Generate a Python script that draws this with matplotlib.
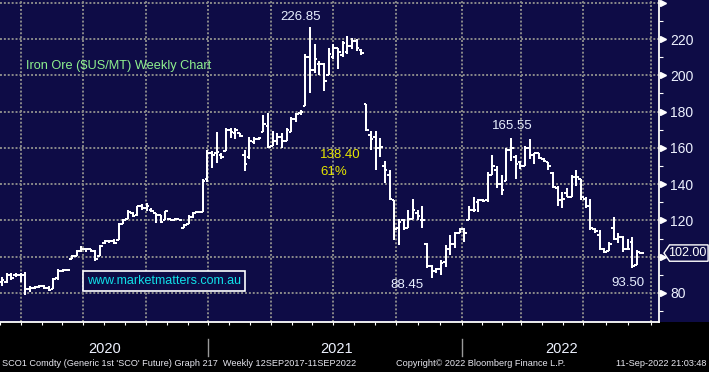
import numpy as np
import matplotlib
matplotlib.use("Agg")
import matplotlib.pyplot as plt
import matplotlib.transforms as mtransforms
from matplotlib.patches import Rectangle, Polygon

# weekly OHLC bars, SCO1 (iron ore 62%)
opens = [86, 86, 90, 90, 90, 90, 82, 83, 83.5, 84, 83, 82, 88, 92, 92.5,
         99, 100.5, 103, 104, 104, 103, 100.5, 107.5, 108.5, 108.5, 109, 118, 121, 124, 123,
         128, 127, 126, 124, 123, 120, 121, 120.5, 121, 116, 118, 122, 124.5, 124.5, 143,
         157, 157, 156, 158, 170, 168, 168, 156, 155, 163, 165, 169, 172, 161, 164,
         166, 164, 169, 176, 179, 183, 210, 203, 206, 206, 200, 210, 215, 211, 213,
         216, 219, 214, 184, 167, 166, 160, 150, 145, 131, 116, 120, 116, 121, 124,
         120, 107, 95, 92, 93, 97, 104, 107, 113, 115, 120, 126, 130, 131, 131,
         145, 148, 140, 142, 159, 155, 152, 150, 160, 156, 157, 154, 152, 146, 138,
         131, 135, 133, 144, 143, 132, 128, 115, 112, 104, 103, 116, 110, 111, 104,
         108, 95.5, 102]
highs = [89, 91, 91, 91, 91, 91.5, 84, 84, 84.5, 84.5, 84, 88, 93, 93, 93,
         101, 103.6, 106, 105, 104, 103.6, 106.4, 109, 109, 109.7, 118.5, 121, 126, 124.5, 128,
         129, 129.5, 127, 124, 123, 125, 121.5, 121.5, 121, 118, 123, 124.5, 125, 143, 158.6,
         158.5, 168.5, 157, 171, 171, 171, 168, 158.6, 166, 166, 166, 178, 179, 169.5, 168,
         168, 171, 177, 179, 181, 212, 226.85, 217, 208, 207, 215, 217, 215, 219, 221.7,
         220.6, 220, 214.6, 184.4, 169.5, 169.5, 165.7, 153, 147.6, 131, 121, 121, 125.6, 132, 125.6,
         128, 107.5, 95.4, 94, 98, 106.4, 111.9, 113.5, 116, 115.7, 128, 132.7, 132, 132, 146.5,
         155.8, 150, 145, 159.7, 165.55, 156, 153, 161, 165, 157, 157, 154.5, 152, 146.5, 139,
         135.5, 138, 145, 147.6, 143, 132.7, 132, 115.7, 114.6, 105, 108, 121.7, 113, 111.5, 110,
         110.8, 103.6, 102.5]
lows = [84, 85.5, 87, 89, 86, 79, 80.5, 82, 83, 82, 81, 82, 87, 91.5, 92,
        99, 100.5, 102.5, 102.5, 102.5, 97.7, 100.3, 107, 107.5, 107, 109, 118, 120.6, 122, 122.5,
        125.6, 125, 124.5, 118.5, 118.5, 120, 120, 120, 120.5, 116, 118, 121.5, 124, 124.5, 141,
        149, 151.4, 154, 158, 165.5, 165, 166, 147, 154, 162, 164.5, 168.5, 160, 161, 161.5,
        159.7, 164, 168.5, 174, 178, 183, 190, 201, 200, 191.5, 200, 209, 203.6, 210, 212,
        214.6, 213.5, 211, 169.5, 158.6, 147.6, 154.7, 140.4, 131, 109, 106.4, 114.6, 116, 121, 120,
        116, 93.7, 88.45, 91, 90, 94.3, 101, 104.7, 113, 108, 120, 124.5, 124.5, 130, 130,
        144.8, 138, 134, 142, 153, 143, 148.5, 150, 154, 151, 154, 152, 147.6, 138, 128,
        127, 132.7, 132.7, 139, 131, 126.7, 114.6, 113, 103.6, 102, 103, 109, 107.5, 102.5, 103.6,
        93.5, 95.4, 101.5]
closes = [87, 90, 88, 90, 90, 82, 83, 83.5, 84, 83, 81.5, 87.5, 92, 92.5, 92.5,
          100.5, 103, 104.5, 104, 103, 99, 106, 108.5, 108.5, 107.5, 118, 120.5, 124.5, 122.5, 128,
          127, 128, 125, 123, 119, 125, 120.5, 121, 120.5, 117.5, 122, 124, 124.5, 142, 157,
          156, 157.5, 155, 170, 169, 170, 166.5, 151, 164, 165, 165.5, 173, 160.5, 164, 166,
          164, 170, 176, 178.5, 180, 210, 203, 209, 206, 197, 212, 215, 213, 218, 216,
          219, 215, 212.5, 170, 165, 160, 160.5, 148, 132, 115, 119, 116, 121, 126, 122.5,
          120, 95, 92, 93, 96.5, 104.5, 107, 113, 115, 113, 126, 126, 131, 130.5, 145,
          150, 140, 137, 159, 160, 151, 150, 160, 156, 157, 154.5, 152.5, 150, 138.5, 131,
          132, 133, 144, 144, 133, 128, 116, 114, 104, 102.5, 107, 110, 111, 104, 104.5,
          95, 102.5, 102]

# quarter starts (bar index units) -> vertical grid, month ticks in between
quarter_pos = [4.1, 17.4, 30.9, 44.2, 57.7, 70.9, 84.4, 98.6, 111.2, 124.5, 139.0]
year_starts = [44.2, 98.6]
year_labels = ["2020", "2021", "2022"]
year_centres = [21.9, 71.6, 119.8]
price_ticks = [80, 120, 140, 160, 180, 200, 220]
grid_levels = [80, 100, 120, 140, 160, 180, 200, 220, 240]

NAVY = "#0e0c46"
plt.rcParams["font.family"] = ["Liberation Sans", "DejaVu Sans"]

fig = plt.figure(figsize=(7.09, 3.72), dpi=100, facecolor=NAVY)
bot = 50 / 372.0
# black strip under the plot
fig.add_artist(Rectangle((0, 0), 1, bot, transform=fig.transFigure,
                         facecolor="black", edgecolor="none", zorder=-1))
ax = fig.add_axes([0, bot, 659 / 709.0, 1 - bot])
ax.set_facecolor(NAVY)

idx = np.arange(len(opens))
ax.vlines(idx, lows, highs, color="white", lw=1.1, zorder=3, antialiased=False)
ax.hlines(opens, idx - 0.55, idx, color="white", lw=1.1, zorder=3, antialiased=False)
ax.hlines(closes, idx, idx + 0.55, color="white", lw=1.1, zorder=3, antialiased=False)

ax.set_xlim(-0.4, 140.7)
ax.set_ylim(64, 241.5)

# grid
for g in grid_levels:
  ax.axhline(g, color="#8a8a8a", lw=1.4, ls=(0, (1, 1)), zorder=1)
for q in quarter_pos:
  ax.axvline(q, color="#8a8a8a", lw=1.4, ls=(0, (1, 1)), zorder=1)

# bottom month ticks
months = []
for a, b in zip(quarter_pos[:-1], quarter_pos[1:]):
  months += [a, a + (b - a) / 3, a + 2 * (b - a) / 3]
months += [quarter_pos[0] - (quarter_pos[1] - quarter_pos[0]) / 3, quarter_pos[-1]]
ax.set_xticks(months)
ax.set_xticklabels([])
ax.tick_params(axis="x", direction="out", length=2.5, width=0.8, color="white")

# right price axis
ax.yaxis.tick_right()
ax.set_yticks(price_ticks)
ax.set_yticklabels([str(t) for t in price_ticks])
ax.set_yticks(np.arange(70, 241, 10), minor=True)
ax.tick_params(axis="y", which="both", direction="out", length=3, width=0.8,
               color="white", labelcolor="#eef2ff", labelsize=10, pad=5)
trans = mtransforms.blended_transform_factory(ax.transAxes, ax.transData)
ax.plot(np.full(len(grid_levels), 1.006), grid_levels, ls="none", marker=">", ms=5,
        color="white", transform=trans, clip_on=False, zorder=5)

for s in ["left", "top"]:
  ax.spines[s].set_visible(False)
for s in ["bottom", "right"]:
  ax.spines[s].set_color("white")
  ax.spines[s].set_linewidth(1.3)

# last price box
last = closes[-1]
ax.add_patch(Polygon([(1.0076, last), (1.016, last + 4.5), (1.0745, last + 4.5),
                      (1.0745, last - 4.5), (1.016, last - 4.5)], closed=True,
                     transform=trans, facecolor=NAVY, edgecolor="white", lw=1.0,
                     clip_on=False, zorder=6))
ax.text(1.0435, last, "%.2f" % last, transform=trans, ha="center", va="center",
        color="white", fontsize=9, zorder=7, clip_on=False)

# year axis (drawn below the plot)
xtrans = mtransforms.blended_transform_factory(ax.transData, ax.transAxes)
for ys in year_starts:
  ax.plot([ys, ys], [-0.053, -0.106], color="#9a9a9a", lw=1.0, transform=xtrans, clip_on=False)
for lab, xc in zip(year_labels, year_centres):
  ax.text(xc, -0.083, lab, transform=xtrans, ha="center", va="center",
          color="#eef2ff", fontsize=10.5)

# annotations
ax.text(63.9, 232.0, "226.85", ha="center", va="center", color="#e8f0ff", fontsize=9.5)
ax.text(109.3, 172.0, "165.55", ha="center", va="center", color="#e8f0ff", fontsize=9.5)
ax.text(86.8, 84.4, "88.45", ha="center", va="center", color="#e8f0ff", fontsize=9.5)
ax.text(134.1, 85.5, "93.50", ha="center", va="center", color="#e8f0ff", fontsize=9.5)
ax.text(68.2, 156.1, "138.40", ha="left", va="center", color="#e6e600", fontsize=9.5)
ax.text(68.2, 146.7, "61%", ha="left", va="center", color="#e6e600", fontsize=9.5)
ax.text(0.0395, 0.795, "Iron Ore ($US/MT) Weekly Chart", transform=ax.transAxes,
        ha="left", va="center", color="#8ef08e", fontsize=9.2)
ax.text(0.249, 0.127, "www.marketmatters.com.au", transform=ax.transAxes,
        ha="center", va="center", color="#10e0e8", fontsize=9,
        bbox=dict(boxstyle="square,pad=0.3", facecolor=NAVY, edgecolor="white", lw=1.2))

# footer
fig.text(0.003, 0.022, "SCO1 Comdty (Generic 1st 'SCO' Future) Graph 217  Weekly 12SEP2017-11SEP2022",
         ha="left", va="center", color="#e8e8f0", fontsize=6.6)
fig.text(0.558, 0.022, "Copyright\u00a9 2022 Bloomberg Finance L.P.",
         ha="left", va="center", color="#e8e8f0", fontsize=6.6)
fig.text(0.997, 0.022, "11-Sep-2022 21:03:48", ha="right", va="center",
         color="#e8e8f0", fontsize=6.6)

fig.savefig("out.png", dpi=100, facecolor=NAVY)
